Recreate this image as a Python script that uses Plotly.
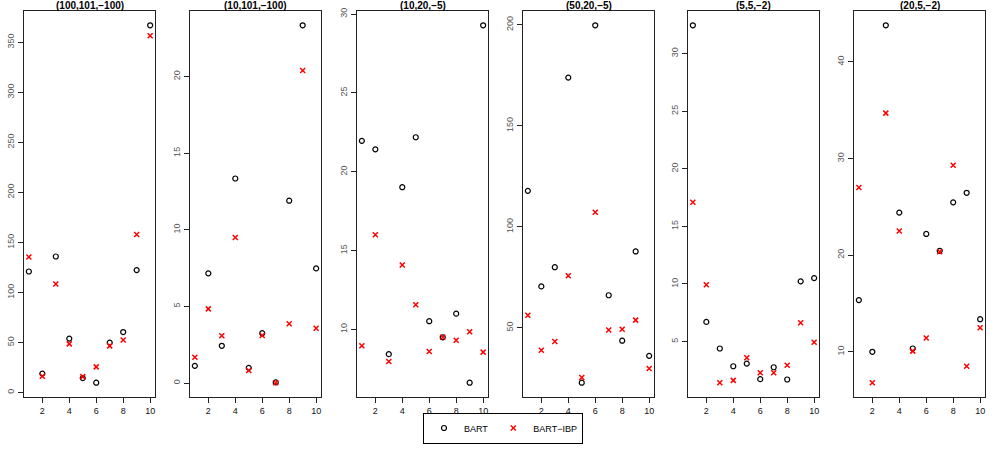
import plotly.graph_objects as go

x = [1, 2, 3, 4, 5, 6, 7, 8, 9, 10]

titles = ["(100,101,−100)", "(10,101,−100)", "(10,20,−5)",
          "(50,20,−5)", "(5,5,−2)", "(20,5,−2)"]

bart_1 = [121, 19, 136, 54, 14.5, 9.9, 50, 60.5, 122.4, 367]
ibp_1 = [135.5, 16.4, 108.5, 48.7, 16, 25.7, 46.7, 52.6, 158, 356.6]

bart_2 = [1.12, 7.16, 2.43, 13.35, 0.99, 3.25, 0.04, 11.9, 23.35, 7.48]
ibp_2 = [1.68, 4.84, 3.08, 9.5, 0.82, 3.1, 0.02, 3.87, 20.4, 3.57]

bart_3 = [21.96, 21.42, 8.43, 19.02, 22.19, 10.52, 9.5, 11.0, 6.62, 29.29]
ibp_3 = [8.96, 16.01, 7.97, 14.09, 11.57, 8.6, 9.5, 9.31, 9.85, 8.56]

bart_4 = [117.8, 70.5, 80.0, 173.9, 22.8, 199.8, 66.1, 43.6, 87.8, 36.1]
ibp_4 = [56.2, 38.9, 43.2, 75.8, 25.4, 107.2, 48.9, 49.3, 53.8, 29.8]

bart_5 = [32.46, 6.71, 4.4, 2.86, 3.09, 1.74, 2.77, 1.71, 10.23, 10.51]
ibp_5 = [17.09, 9.94, 1.43, 1.63, 3.6, 2.29, 2.29, 2.94, 6.63, 4.94]

bart_6 = [15.35, 10.0, 43.78, 24.4, 10.34, 22.19, 20.45, 25.46, 26.45, 13.37]
ibp_6 = [26.99, 6.8, 34.69, 22.5, 10.07, 11.43, 20.35, 29.3, 8.5, 12.49]

bart = [bart_1, bart_2, bart_3, bart_4, bart_5, bart_6]
ibp = [ibp_1, ibp_2, ibp_3, ibp_4, ibp_5, ibp_6]
ytick_step = [50, 5, 5, 50, 5, 10]

W, H = 997, 458
lefts = [24, 190, 357, 523, 688, 854]
width = 131
top, bottom = 11, 397

fig = go.Figure()
for i in range(6):
    n = "" if i == 0 else str(i + 1)
    fig.add_trace(go.Scatter(x=x, y=bart[i], mode="markers", name="BART",
                             xaxis="x" + n, yaxis="y" + n, showlegend=(i == 0),
                             marker=dict(symbol="circle-open", size=5, color="black",
                                         line=dict(width=1.2))))
    fig.add_trace(go.Scatter(x=x, y=ibp[i], mode="markers", name="BART−IBP",
                             xaxis="x" + n, yaxis="y" + n, showlegend=(i == 0),
                             marker=dict(symbol="x-thin-open", size=5, color="red",
                                         line=dict(width=1.5, color="red"))))

    # R-style 4% padding
    vals = bart[i] + ibp[i]
    lo, hi = min(vals), max(vals)
    pad = (hi - lo) * 0.04
    ax = dict(showgrid=False, zeroline=False, showline=True, mirror=True,
              linecolor="#222", linewidth=1, ticks="outside", ticklen=5,
              tickcolor="#222", automargin=False)
    fig.layout["xaxis" + n] = dict(ax, domain=[lefts[i] / W, (lefts[i] + width) / W],
                                   range=[0.64, 10.36], tickvals=[2, 4, 6, 8, 10],
                                   anchor="y" + n, tickfont=dict(size=9, color="#111"))
    fig.layout["yaxis" + n] = dict(ax, domain=[(H - bottom) / H, (H - top) / H],
                                   range=[lo - pad, hi + pad], dtick=ytick_step[i],
                                   tickangle=-90, anchor="x" + n,
                                   tickfont=dict(size=9, color="#555"))
    fig.add_annotation(text="<b>" + titles[i] + "</b>", xref="paper", yref="paper",
                       x=(lefts[i] + width / 2) / W, xanchor="center", y=1.0,
                       yanchor="top", yshift=2, showarrow=False,
                       font=dict(size=10, color="black"))

fig.update_layout(
    width=W, height=H,
    margin=dict(l=0, r=0, t=0, b=0),
    plot_bgcolor="white", paper_bgcolor="white",
    font=dict(family="Liberation Sans, Arial, sans-serif", color="black"),
    legend=dict(orientation="h", x=0.5045, xanchor="center", y=(H - 428) / H,
                yanchor="middle", bordercolor="black", borderwidth=1,
                font=dict(size=9), itemwidth=30, tracegroupgap=0),
)

fig.write_html("out.html", config={"displayModeBar": False},
               post_script="document.body.style.margin='0';")
